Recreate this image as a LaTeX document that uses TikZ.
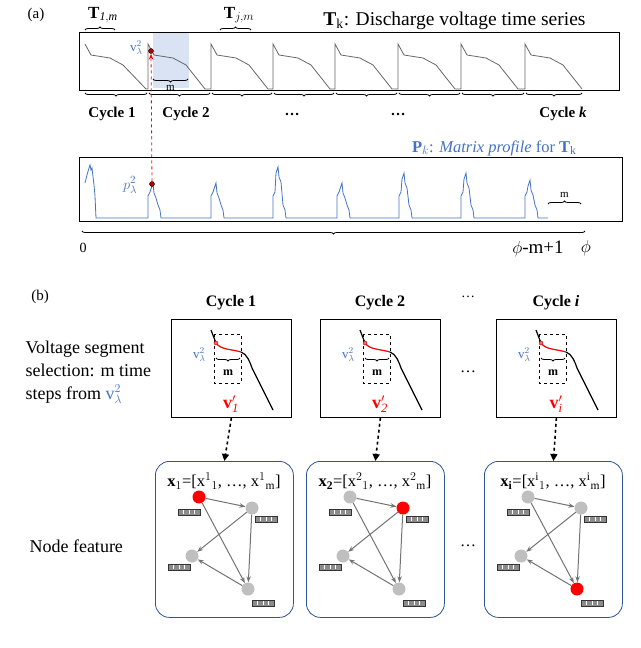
\documentclass[tikz,border=0pt]{standalone}
\usepackage{fontspec}
\setmainfont{Liberation Serif}
\usetikzlibrary{arrows.meta,decorations.pathreplacing,calc}
\definecolor{pblue}{RGB}{68,114,196}
\definecolor{hl}{RGB}{218,227,243}
\definecolor{dblue}{RGB}{47,85,151}
\tikzset{
  brc/.style={decorate,decoration={brace,amplitude=3pt},thick},
  brcd/.style={decorate,decoration={brace,mirror,amplitude=3pt},thick},
  gnode/.style={circle,fill=black!25,minimum size=13pt,inner sep=0pt},
  rnode/.style={circle,fill=red,minimum size=13pt,inner sep=0pt},
  gedge/.style={draw=black!55,line width=1pt,-{Stealth[length=6pt]}},
  feat/.style={draw=black!80,fill=black!45,minimum width=22pt,minimum height=6pt,inner sep=0pt,
    path picture={\foreach \i in {1,2,3}{\draw[white,line width=1pt] ($(path picture bounding box.west)!\i/4!(path picture bounding box.east)$) ++(0,-2pt) -- ++(0,4pt);}}},
  cyc/.style={font=\bfseries\fontsize{15}{17}\selectfont},
  cycb/.style={font=\bfseries\fontsize{16}{18}\selectfont},
  rbox/.style={draw=dblue,thick,rounded corners=14pt},
  sbox/.style={draw=black,thick},
}
\begin{document}
\begin{tikzpicture}[x=1pt,y=-1pt]
\useasboundingbox (0,0) rectangle (640,648);
% ---------------- (a)
\node (la) at (36,15) {\fontsize{15}{17}\selectfont (a)};
\fill[hl] (153,33) rectangle (189,88);
\node[sbox,minimum width=540pt,minimum height=58pt,anchor=north west,inner sep=0pt] (tbox) at (79,32) {};
\draw[black!60,thick] (85,44) -- (91,55) -- (110,58) -- (123,65) -- (146,89)
  \foreach \x in {148,211,273,335,398,461,525}{ -- (\x,89) -- (\x,44) -- (\x+6,55) -- (\x+25,58) -- (\x+38,65) -- (\x+57,89)};
\node[circle,fill=red!70!black,draw=black,inner sep=0pt,minimum size=5pt] (v2) at (151,51) {};
\node[text=pblue,font=\fontsize{13}{15}\selectfont,anchor=east] at (146,48) {v$_\lambda^2$};
\draw[brcd] (153,79) -- (188,79) node[midway,below=3pt,font=\fontsize{11}{13}\selectfont] {m};
\foreach \a/\b in {85/147,149/210,212/272,274/334,336/397,399/460,462/524,526/582}{
  \draw[brcd] (\a,93) -- (\b,93);}
\node[cyc] at (112,114) {Cycle 1};
\node[cyc] at (186,114) {Cycle 2};
\node[cyc] at (292,114) {\dots};
\node[cyc] at (398,114) {\dots};
\node[cyc] at (563,114) {Cycle \textit{k}};
\draw[brc] (85,30) -- (115,30);
\node[font=\fontsize{17}{19}\selectfont] at (103,15) {\textbf{T}$_{\mathit{1,m}}$};
\draw[brc] (220,30) -- (251,30);
\node[font=\fontsize{17}{19}\selectfont] at (239,15) {\textbf{T}$_{j,m}$};
\node[anchor=east,font=\fontsize{19.5}{22}\selectfont] at (589,21) {\textbf{T}$_{\mathrm k}$: Discharge voltage time series};
\node[anchor=east,text=pblue,font=\fontsize{16.5}{18}\selectfont] at (580,148) {\textbf{P}$_k$: \textit{Matrix profile} for \textbf{T}$_\mathrm{k}$};
\node[sbox,minimum width=543pt,minimum height=64pt,anchor=north west,inner sep=0pt] (pbox) at (79,157) {};
\draw[pblue,thick] (85,183) -- (87,175) -- (89,168) -- (90,165) -- (91,170) -- (92,168) -- (94,185) -- (95,196) -- (96,218)
  \foreach \x/\t in {148/183,211/183,273/167,337/183,399/173,461/173,525/180}
   { -- (\x,218) -- (\x,196) -- (\x+2,192) -- (\x+3,\t+6) -- (\x+5,\t) -- (\x+6,\t+10) -- (\x+8,\t+15) -- (\x+10,205) -- (\x+12,210) -- (\x+13,218)} -- (548,218);
\node[circle,fill=red!70!black,draw=black,inner sep=0pt,minimum size=5pt] (p2) at (152,184) {};
\node[text=pblue,font=\fontsize{15}{17}\selectfont] at (130,185) {$p_\lambda^2$};
\draw[brc] (548,204) -- (581,204) node[midway,above=3pt,font=\fontsize{11}{13}\selectfont] {m};
\draw[red,dashed,thick,-{Stealth[length=6pt]}] (p2) -- (v2);
\draw[brcd] (82,231) -- (585,231);
\node[font=\fontsize{14}{16}\selectfont] at (83,248) {0};
\node[font=\fontsize{19}{21}\selectfont] at (538,249) {$\phi$-m+1};
\node[font=\fontsize{19}{21}\selectfont] at (586,248) {$\phi$};
% ---------------- (b)
\node at (40,297) {\fontsize{15}{17}\selectfont (b)};
\node[align=left,anchor=west,font=\fontsize{18}{23}\selectfont] at (22,372)
 {Voltage segment\\selection: m time\\steps from \textcolor{pblue}{v$_\lambda^2$}};
\node[font=\fontsize{16}{18}\selectfont] at (468,372) {\dots};
\node[font=\fontsize{14}{16}\selectfont] at (468,297) {\dots};
\node[anchor=west,font=\fontsize{18}{20}\selectfont] at (26,546) {Node feature};
\node[font=\fontsize{16}{18}\selectfont] at (468,546) {\dots};
\foreach \L/\c/\v in {171/Cycle 1/1,320/Cycle 2/2,496/Cycle \textit{i}/i}{
  \begin{scope}[shift={(\L,0)}]
    \node[cycb] at (60,303) {\c};
    \node[sbox,minimum width=120pt,minimum height=98pt,anchor=north west,inner sep=0pt] (sb\v) at (0,319) {};
    \draw[dashed,thick] (43,334) rectangle (70,383);
    \draw[very thick] (40,330) -- (45,343);
    \draw[red,very thick] (45,343) .. controls (50,350) and (60,349) .. (70,352);
    \draw[very thick] (70,352) .. controls (76,354) and (79,362) .. (81,368) -- (102,410);
    \node[circle,draw=red!70!black,fill=red!60,inner sep=0pt,minimum size=4pt] at (45,343) {};
    \draw[brcd] (45,358) -- (69,358);
    \node[font=\bfseries\fontsize{12}{14}\selectfont] at (57,373) {m};
    \node[text=pblue,font=\fontsize{13}{15}\selectfont,anchor=east] at (38,355) {v$_\lambda^2$};
    \node[text=red,font=\bfseries\fontsize{18}{20}\selectfont] at (60,404) {v$'_{\mathit{\v}}$};
  \end{scope}
}
\foreach \R/\v/\lab/\sa/\sb/\sd in {155/1/{$\mathbf{x}_1$=[x$^1{}_1$, \dots, x$^1{}_\mathrm{m}$]}/rnode/gnode/gnode,306/2/{$\mathbf{x_2}$=[x$^2{}_1$, \dots, x$^2{}_\mathrm{m}$]}/gnode/rnode/gnode,484/i/{$\mathbf{x_i}$=[x$^\mathrm{i}{}_1$, \dots, x$^\mathrm{i}{}_\mathrm{m}$]}/gnode/gnode/rnode}{
  \begin{scope}[shift={(\R,0)}]
    \node[rbox,minimum width=138pt,minimum height=156pt,anchor=north west,inner sep=0pt] (rb\v) at (0,461) {};
    \node[font=\fontsize{16.5}{18}\selectfont] at (69,481) {\lab};
    \node[\sa] (n1) at (44,497) {};
    \node[\sb] (n2) at (97,508) {};
    \node[gnode] (n3) at (37,556) {};
    \node[\sd] (n4) at (93,589) {};
    \node[feat] at (34,512) {};
    \node[feat] at (111,519) {};
    \node[feat] at (24,567) {};
    \node[feat] at (108,603) {};
    \draw[gedge] (n1) -- (n2);
    \draw[gedge] (n1) -- (n4);
    \draw[gedge] (n2) -- (n3);
    \draw[gedge] (n2) -- (n4);
    \draw[gedge] (n4) -- (n3);
  \end{scope}
  \draw[dashed,line width=1.6pt,-{Triangle[length=7pt,width=7pt]}] (sb\v.south) -- (rb\v.north);
}
\end{tikzpicture}
\end{document}
